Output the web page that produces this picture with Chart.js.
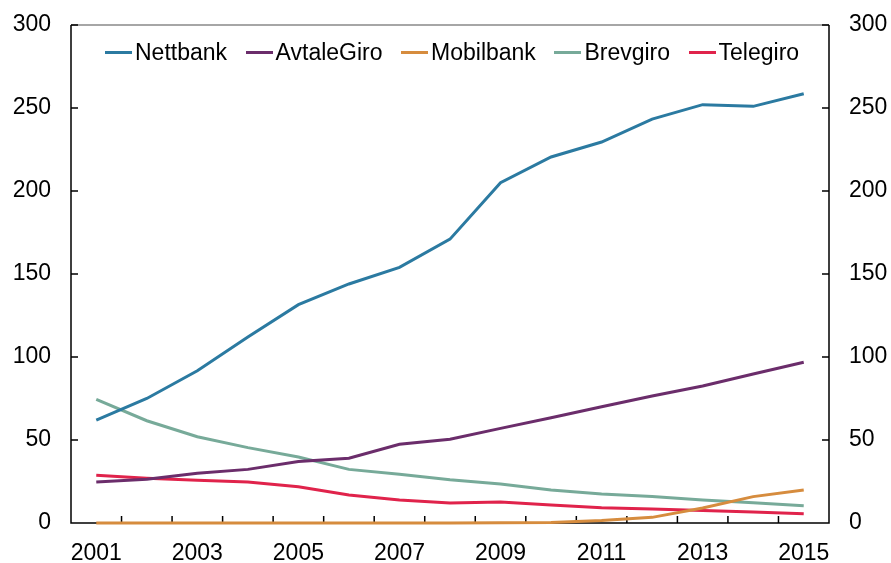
<!DOCTYPE html>
<html>
<head>
<meta charset="utf-8">
<script src="https://cdn.jsdelivr.net/npm/chart.js@4/dist/chart.umd.min.js"></script>
<style>
  body { margin: 0; background: #fff; }
  #wrap { position: relative; width: 891px; height: 563px; }
  #legend { position: absolute; left: 105px; top: 39px; display: flex; align-items: center;
            font-family: "Liberation Sans", Arial, sans-serif; font-size: 23px; color: #000; }
  #legend .item { display: flex; align-items: center; margin-right: 18.5px; }
  #legend .swatch { width: 27px; height: 3px; margin-right: 3px; }
</style>
</head>
<body>
<div id="wrap">
  <canvas id="chart" width="891" height="563"></canvas>
  <div id="legend"></div>
</div>
<script>
// år og tall lest av figuren
const years = ['2001','2002','2003','2004','2005','2006','2007','2008','2009','2010','2011','2012','2013','2014','2015'];
const nettbank   = [62, 75, 91.7, 112, 131.5, 144, 154, 171, 205, 220.5, 229.5, 243.3, 252, 251, 258.6];
const avtaleGiro = [24.7, 26.3, 29.9, 32.3, 37, 39, 47.4, 50.4, 57, 63.4, 70, 76.5, 82.5, 89.8, 96.8];
const mobilbank  = [0, 0, 0, 0, 0, 0, 0, 0, 0.1, 0.3, 1.5, 3.4, 9, 15.9, 19.9];
const brevgiro   = [74.5, 61.6, 52, 45.4, 39.8, 32.3, 29.3, 26, 23.5, 19.9, 17.5, 15.9, 13.9, 12.2, 10.4];
const telegiro   = [28.7, 26.9, 25.7, 24.7, 21.9, 16.9, 13.9, 12, 12.7, 10.8, 9.2, 8.4, 7.6, 6.6, 5.6];
const yTicks = [0, 50, 100, 150, 200, 250, 300];

const series = [
  { name: 'Nettbank',   data: nettbank,   color: '#2b7aa1' },
  { name: 'AvtaleGiro', data: avtaleGiro, color: '#6b2d6b' },
  { name: 'Mobilbank',  data: mobilbank,  color: '#d68c3e' },
  { name: 'Brevgiro',   data: brevgiro,   color: '#77aa99' },
  { name: 'Telegiro',   data: telegiro,   color: '#e0234b' }
];

// legende inne i plottet
const legend = document.getElementById('legend');
series.forEach(s => {
  const item = document.createElement('div');
  item.className = 'item';
  item.innerHTML = '<span class="swatch" style="background:' + s.color + '"></span><span>' + s.name + '</span>';
  legend.appendChild(item);
});

const FONT = { family: '"Liberation Sans", Arial, sans-serif', size: 23 };

// ramme og innovervendte tikkmerker
const framePlugin = {
  id: 'frame',
  beforeDatasetsDraw(chart) {
    const { ctx, chartArea: a } = chart;
    const xs = chart.scales.x, ys = chart.scales.y;
    ctx.save();
    ctx.lineWidth = 1.5;
    ctx.strokeStyle = '#888';
    ctx.beginPath(); ctx.moveTo(a.left, a.top); ctx.lineTo(a.right, a.top); ctx.stroke();
    ctx.strokeStyle = '#000';
    ctx.beginPath();
    ctx.moveTo(a.left, a.top); ctx.lineTo(a.left, a.bottom); ctx.lineTo(a.right, a.bottom); ctx.lineTo(a.right, a.top);
    ys.ticks.forEach((t, i) => {
      const y = ys.getPixelForTick(i);
      ctx.moveTo(a.left, y); ctx.lineTo(a.left + 7, y);
      ctx.moveTo(a.right, y); ctx.lineTo(a.right - 7, y);
    });
    for (let i = 1; i < years.length; i++) {
      const x = (xs.getPixelForValue(i - 1) + xs.getPixelForValue(i)) / 2;
      ctx.moveTo(x, a.bottom); ctx.lineTo(x, a.bottom - 7);
    }
    ctx.stroke();
    ctx.restore();
  }
};

const yScale = (pos) => ({
  position: pos,
  min: 0, max: 300,
  afterBuildTicks: s => { s.ticks = yTicks.map(v => ({ value: v })); },
  grid: { drawOnChartArea: false, drawTicks: false },
  border: { display: false },
  ticks: { color: '#000', font: FONT, padding: 20 },
  afterFit: s => {
    s.width = pos === 'left' ? 71 : 62;
    s.paddingTop = 0; s.paddingBottom = 0;
  }
});

new Chart(document.getElementById('chart'), {
  type: 'line',
  data: {
    labels: years,
    datasets: series.map(s => ({
      label: s.name,
      data: s.data,
      borderColor: s.color,
      backgroundColor: s.color,
      borderWidth: 3,
      pointRadius: 0,
      tension: 0,
      clip: 5
    }))
  },
  options: {
    responsive: false,
    animation: false,
    layout: { padding: { top: 25, left: 0, right: 0, bottom: 0 } },
    plugins: { legend: { display: false }, tooltip: { enabled: false } },
    scales: {
      x: {
        offset: true,
        grid: { display: false },
        border: { display: false },
        ticks: {
          color: '#000', font: FONT, padding: 9, autoSkip: false, maxRotation: 0,
          callback: function (v, i) { return i % 2 === 0 ? years[i] : ''; }
        },
        afterFit: s => {
          s.height = 40;
          s.paddingLeft = 0; s.paddingRight = 0;
        }
      },
      y: yScale('left'),
      y2: yScale('right')
    }
  },
  plugins: [framePlugin]
});
</script>
</body>
</html>
